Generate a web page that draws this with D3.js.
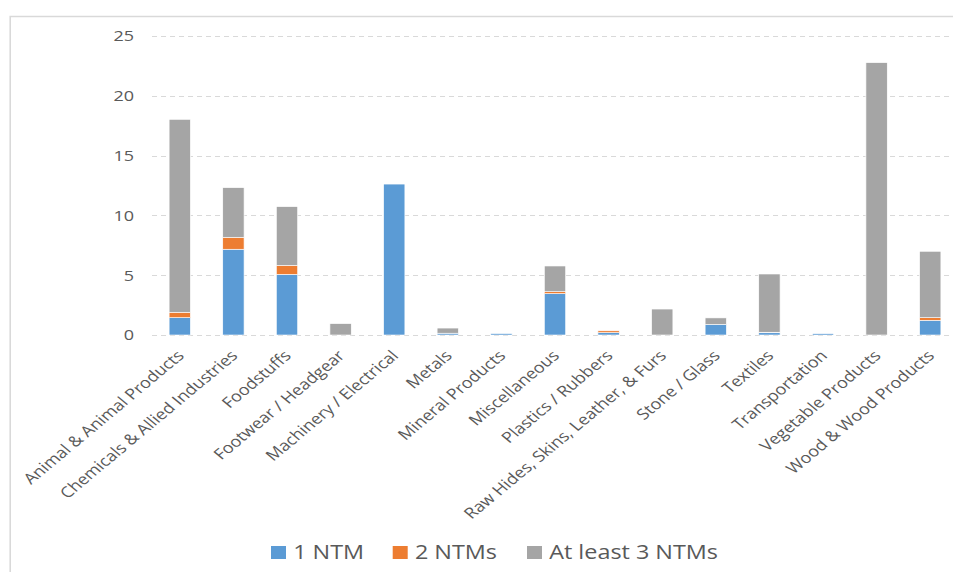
<!DOCTYPE html>
<html>
<head>
<meta charset="utf-8">
<script src="https://cdn.jsdelivr.net/npm/d3@7"></script>
<style>
  html, body { margin: 0; padding: 0; background: #fff; }
  svg { display: block; }
  text { font-family: "Open Sans", "Noto Sans", sans-serif; fill: #595959; }
</style>
</head>
<body>
<svg id="chart" width="953" height="572"></svg>
<script>
// Products by sector and number of non-tariff measures (NTMs) applied
const categories = [
  "Animal & Animal Products",
  "Chemicals & Allied Industries",
  "Foodstuffs",
  "Footwear / Headgear",
  "Machinery / Electrical",
  "Metals",
  "Mineral Products",
  "Miscellaneous",
  "Plastics / Rubbers",
  "Raw Hides, Skins, Leather, & Furs",
  "Stone / Glass",
  "Textiles",
  "Transportation",
  "Vegetable Products",
  "Wood & Wood Products"
];
const oneNTM    = [1.45, 7.17, 5.07, 0, 12.62, 0.15, 0.12, 3.46, 0.2, 0, 0.88, 0.19, 0.11, 0, 1.23];
const twoNTMs   = [0.45, 1.0, 0.75, 0, 0, 0, 0, 0.16, 0.15, 0, 0, 0.04, 0, 0, 0.22];
const threeNTMs = [16.13, 4.15, 4.91, 0.95, 0, 0.43, 0, 2.15, 0, 2.17, 0.55, 4.87, 0, 22.77, 5.55];
const seriesNames = ["1 NTM", "2 NTMs", "At least 3 NTMs"];
const seriesColors = ["#5b9bd5", "#ed7d31", "#a5a5a5"];
const yTicks = [0, 5, 10, 15, 20, 25];

// The drawing is laid out on a narrower canvas and widened to the page.
const W = 953, H = 572, SX = 1.2;
const vw = W / SX;
const svg = d3.select("#chart")
  .attr("viewBox", `0 0 ${vw} ${H}`)
  .attr("preserveAspectRatio", "none");

// chart frame
svg.append("path")
  .attr("d", `M8.5,${H + 2} V16.5 H${vw + 2}`)
  .attr("fill", "none")
  .attr("stroke", "#d9d9d9")
  .attr("stroke-width", 1.3);

const rows = categories.map((c, i) => ({
  cat: c, s0: oneNTM[i], s1: twoNTMs[i], s2: threeNTMs[i]
}));
const stack = d3.stack().keys(["s0", "s1", "s2"])(rows);

const x = d3.scaleBand()
  .domain(categories)
  .range([153 / SX, 957 / SX])
  .paddingInner(0.6)
  .paddingOuter(0.3);
const y = d3.scaleLinear().domain([0, 25]).range([335, 36]);

// horizontal gridlines
svg.append("g")
  .selectAll("line")
  .data(yTicks)
  .join("line")
  .attr("x1", 152 / SX)
  .attr("x2", vw + 2)
  .attr("y1", d => Math.round(y(d)) + 0.5)
  .attr("y2", d => Math.round(y(d)) + 0.5)
  .attr("stroke", "#d9d9d9")
  .attr("stroke-width", 1)
  .attr("stroke-dasharray", "4.2,3.3");

// y axis labels
const yAxis = d3.axisLeft(y).tickValues(yTicks).tickSize(0).tickPadding(0);
svg.append("g")
  .attr("transform", `translate(${134 / SX},0)`)
  .call(yAxis)
  .call(g => g.select(".domain").remove())
  .call(g => g.selectAll("text")
    .attr("font-size", 15)
    .attr("font-family", "Open Sans, Noto Sans, sans-serif")
    .attr("fill", "#595959"));

// stacked bars
svg.append("g")
  .selectAll("g")
  .data(stack)
  .join("g")
  .attr("fill", (d, i) => seriesColors[i])
  .selectAll("rect")
  .data(d => d.filter(p => p[1] - p[0] > 0))
  .join("rect")
  .attr("x", d => x(d.data.cat))
  .attr("width", x.bandwidth())
  .attr("y", d => y(d[1]))
  .attr("height", d => y(d[0]) - y(d[1]))
  .attr("stroke", "#ffffff")
  .attr("stroke-width", 0.6);

// category labels, rotated
const xAxis = d3.axisBottom(x).tickSize(0).tickPadding(0);
svg.append("g")
  .attr("transform", "translate(0,335)")
  .call(xAxis)
  .call(g => g.select(".domain").remove())
  .call(g => g.selectAll("text")
    .attr("font-size", 15)
    .attr("font-family", "Open Sans, Noto Sans, sans-serif")
    .attr("fill", "#595959")
    .attr("text-anchor", "end")
    .attr("dy", "0.35em")
    .attr("y", 0)
    .attr("transform", "translate(0.6,18) rotate(-45)"));

// legend
const legendX = [271 / SX, 392.7 / SX, 527 / SX];
const legend = svg.append("g")
  .selectAll("g")
  .data(seriesNames)
  .join("g")
  .attr("transform", (d, i) => `translate(${legendX[i]},546)`);
legend.append("rect")
  .attr("width", 12.5)
  .attr("height", 13)
  .attr("fill", (d, i) => seriesColors[i]);
legend.append("text")
  .attr("x", 18.5)
  .attr("y", 6.5)
  .attr("dy", "0.35em")
  .attr("font-size", 19.5)
  .text(d => d);
</script>
</body>
</html>
